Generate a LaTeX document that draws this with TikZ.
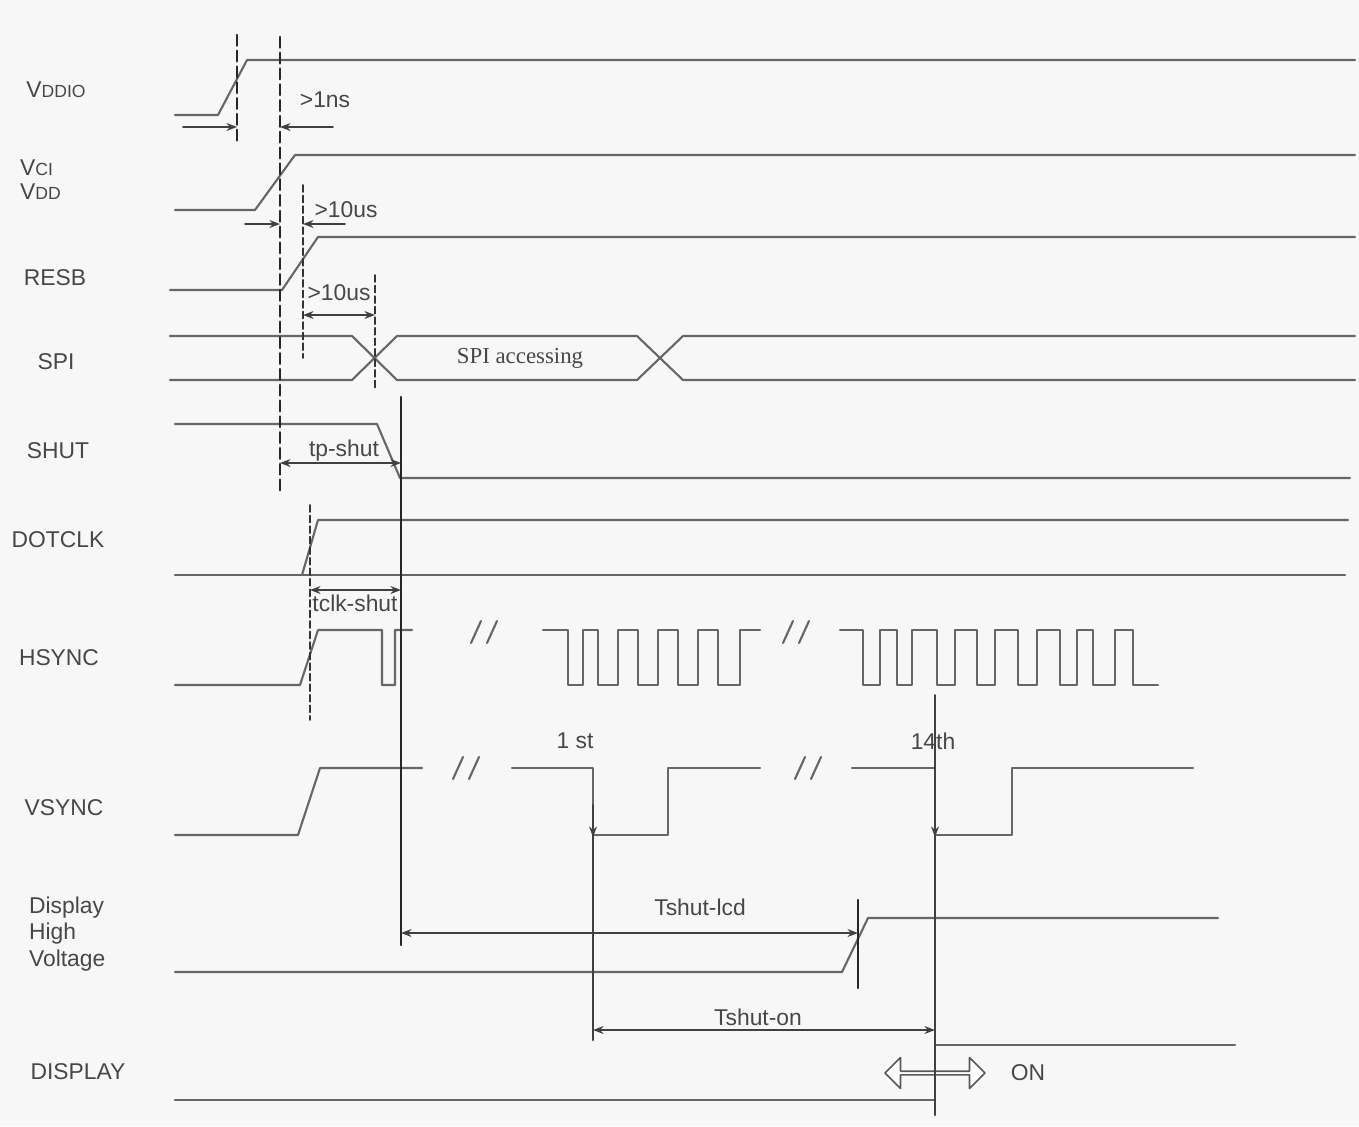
\documentclass[tikz,border=0pt]{standalone}
\usepackage{fontspec}
\setmainfont{Liberation Sans}
\newfontfamily\spifont{Liberation Serif}
\usetikzlibrary{shapes.arrows,arrows.meta}

\begin{document}
\begin{tikzpicture}[x=0.02cm,y=-0.02cm,line join=round,line cap=round,>={Stealth[length=6pt,width=4.5pt]},
	font=\fontsize{13}{15.3}\selectfont,
	sig/.style={line width=1.2pt,draw=black!60},
	guide/.style={line width=1.5pt,draw=black!85,dash pattern=on 6pt off 3pt},
	thinguide/.style={line width=0.9pt,draw=black!80,dash pattern=on 4pt off 2pt},
	cutline/.style={line width=1.4pt,draw=black!85},
	dim/.style={line width=0.9pt,draw=black!75},
	lbl/.style={text=black!72,inner sep=1pt}]
	
	\fill[black!3] (0,0) rectangle (1359,1126);
	\useasboundingbox (0,0) rectangle (1359,1126);
	
	% signal names
	\node[lbl] (vddio) at (56,90) {V{\fontsize{10}{11}\selectfont DDIO}};
	\node[lbl,anchor=west] (vci) at (18,168) {V{\fontsize{10}{11}\selectfont CI}};
	\node[lbl,anchor=west] (vdd) at (18,192) {V{\fontsize{10}{11}\selectfont DD}};
	\node[lbl] (resb) at (55,278) {RESB};
	\node[lbl] (spi) at (56,362) {SPI};
	\node[lbl] (shut) at (58,451) {SHUT};
	\node[lbl] (dotclk) at (58,540) {DOTCLK};
	\node[lbl] (hsync) at (59,658) {HSYNC};
	\node[lbl] (vsync) at (64,808) {VSYNC};
	\node[lbl,anchor=west,align=left] (dhv) at (27,934) {Display\\High\\Voltage};
	\node[lbl] (disp) at (78,1072) {DISPLAY};
	
	% waveforms
	\draw[sig] (175,115)--(218,115)--(247,60)--(1355,60);
	\draw[sig] (175,210)--(255,210)--(295,155)--(1355,155);
	\draw[sig] (170,290)--(282,290)--(318,237)--(1355,237);
	\draw[sig] (170,336)--(352,336)--(397,380)--(637,380)--(683,336)--(1355,336);
	\draw[sig] (170,380)--(352,380)--(397,336)--(637,336)--(683,380)--(1355,380);
	\draw[sig] (175,424)--(377,424)--(400,478)--(1350,478);
	\draw[sig] (175,575)--(1345,575);
	\draw[sig] (302,575)--(318,520)--(1348,520);
	\draw[sig] (175,685)--(300,685)--(318,630)--(382,630)|-(395,685)|-(412,630);
	\draw[sig] (543,630) foreach \a/\b in {568/583,598/618,638/658,678/698,718/740}
		{--(\a,630)--(\a,685)--(\b,685)--(\b,630)}--(760,630);
	\draw[sig] (840,630) foreach \a/\b in {863/880,897/912,937/955,977/995,1018/1037,1060/1077,1093/1115}
		{--(\a,630)--(\a,685)--(\b,685)--(\b,630)}--(1133,630)--(1133,685)--(1158,685);
	\draw[sig] (175,835)--(298,835)--(320,768)--(422,768);
	\draw[sig] (512,768)--(593,768)--(593,835)--(668,835)--(668,768)--(760,768);
	\draw[sig] (852,768)--(935,768)--(935,835)--(1012,835)--(1012,768)--(1193,768);
	\draw[sig] (175,972)--(842,972)--(868,918)--(1218,918);
	\draw[sig] (175,1100)--(935,1100)--(935,1045)--(1235,1045);
	
	% breaks
	\foreach \x/\y in {476/632,788/632,458/768,800/768}
		\draw[sig] (\x-5,\y+11)--(\x+5,\y-11) (\x+11,\y+11)--(\x+21,\y-11);
	
	% guide lines
	\draw[guide] (237,35)--(237,142);
	\draw[guide] (280,37)--(280,495);
	\draw[thinguide] (303,185)--(303,358);
	\draw[thinguide] (375,275)--(375,388);
	\draw[thinguide] (310,505)--(310,720);
	\draw[cutline] (401,397)--(401,945);
	\draw[cutline] (858,900)--(858,988);
	\draw[dim,line width=1.2pt] (593,835)--(593,1040);
	\draw[dim] (935,695)--(935,1115);
	\draw[dim,->] (593,805)--(593,837);
	\draw[dim,->] (935,805)--(935,837);
	
	% timing marks
	\draw[dim,->] (183,127)--(237,127);
	\draw[dim,->] (333,127)--(280,127);
	\draw[dim,->] (245,224)--(280,224);
	\draw[dim,->] (345,224)--(303,224);
	\draw[dim,<->] (303,315)--(375,315);
	\draw[dim,<->] (280,463)--(401,463);
	\draw[dim,<->] (310,590)--(401,590);
	\draw[dim,<->] (401,933)--(858,933);
	\draw[dim,<->] (593,1030)--(935,1030);
	
	\node[lbl] (t1ns) at (325,100) {>1ns};
	\node[lbl] (t10a) at (346,210) {>10us};
	\node[lbl] (t10b) at (339,293) {>10us};
	\node[lbl,font=\spifont\fontsize{13}{15}\selectfont] (acc) at (520,358) {SPI accessing};
	\node[lbl] (tp) at (344,451) {tp-shut};
	\node[lbl] (tclk) at (355,603) {tclk-shut};
	\node[lbl] (first) at (575,741) {1 st};
	\node[lbl] (last) at (933,741) {14th};
	\node[lbl] (tlcd) at (700,907) {Tshut-lcd};
	\node[lbl] (ton) at (758,1017) {Tshut-on};
	\node[double arrow,draw=black!65,line width=0.9pt,fill=white,inner sep=0pt,
		minimum height=2cm,minimum width=0.62cm,double arrow head extend=0.12cm] (onarr) at (935,1073) {};
	\draw[dim] (935,1045)--(935,1115);
	\node[lbl] (on) at (1028,1073) {ON};
\end{tikzpicture}
\end{document}
